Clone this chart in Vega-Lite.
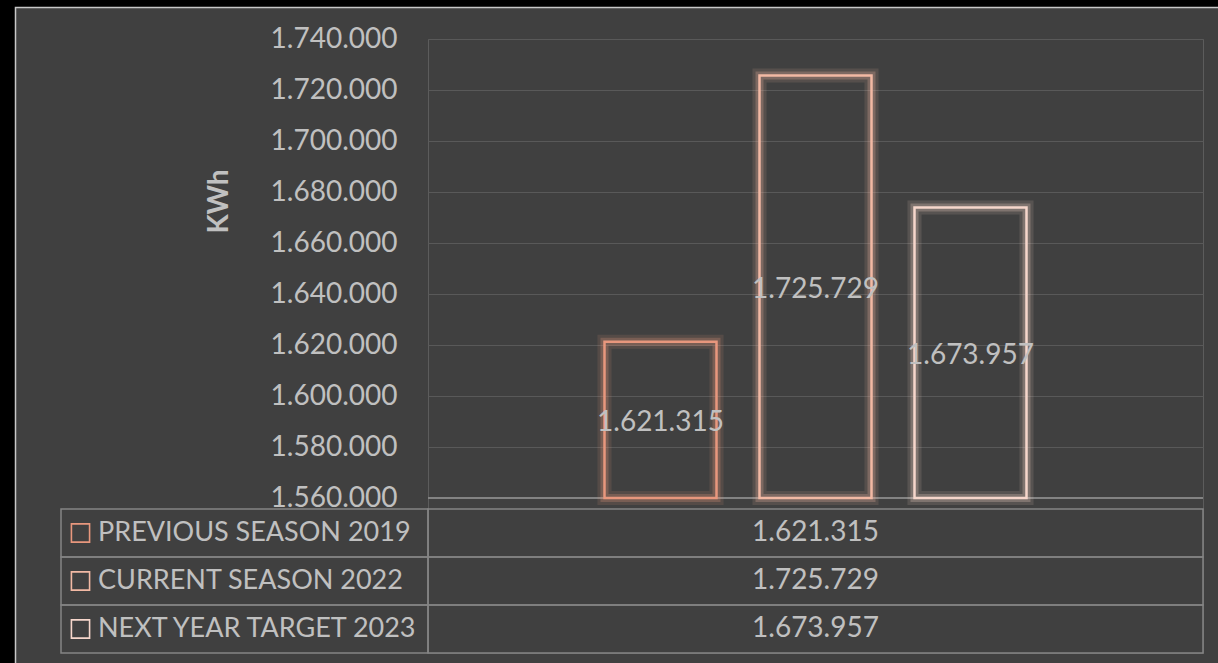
{
  "$schema": "https://vega.github.io/schema/vega-lite/v6.json",
  "width": 775,
  "height": 614,
  "autosize": {"type": "none"},
  "padding": {"left": 428, "top": 39, "right": 15, "bottom": 10},
  "background": "#404040",
  "config": {
    "view": {"stroke": "#5c5c5c", "strokeWidth": 1},
    "font": "Lato",
    "locale": {"number": {"decimal": ",", "thousands": ".", "grouping": [3], "currency": ["", " €"]}}
  },
  "data": {
    "values": [
      {"series": "PREVIOUS SEASON 2019", "kwh": 1621315},
      {"series": "CURRENT SEASON 2022", "kwh": 1725729},
      {"series": "NEXT YEAR TARGET 2023", "kwh": 1673957}
    ]
  },
  "resolve": {"scale": {"x": "independent", "y": "independent"}},
  "layer": [
    {
      "layer": [
        {
          "mark": {"type": "rule", "color": "#848484", "strokeWidth": 1.5},
          "encoding": {
            "y": {
              "datum": 1560000,
              "type": "quantitative",
              "scale": {"domain": [1499215.7, 1740000], "nice": false, "zero": false},
              "axis": {
                "values": [1560000, 1580000, 1600000, 1620000, 1640000, 1660000, 1680000, 1700000, 1720000, 1740000],
                "format": ",.0f",
                "labelFont": "Lato",
                "labelFontSize": 28,
                "labelColor": "#c0c0c0",
                "labelPadding": 31,
                "grid": true,
                "gridColor": "#595959",
                "gridWidth": 1.2,
                "domain": false,
                "ticks": false,
                "title": "KWh",
                "titleFont": "Lato",
                "titleFontSize": 28,
                "titleFontWeight": "bold",
                "titleColor": "#c0c0c0",
                "titleAngle": -90,
                "titleX": -201,
                "titleY": 162,
                "titleAlign": "center",
                "titleBaseline": "alphabetic"
              }
            }
          }
        },
        {
          "mark": {"type": "bar", "filled": false, "strokeWidth": 14, "strokeOpacity": 0.13, "width": {"band": 0.7226}},
          "encoding": {
            "x": {"field": "series", "type": "nominal", "sort": null, "scale": {"domain": ["PREVIOUS SEASON 2019", "CURRENT SEASON 2022", "NEXT YEAR TARGET 2023"], "paddingInner": 0, "paddingOuter": 1}, "axis": null},
            "y": {"field": "kwh", "type": "quantitative", "title": "KWh"},
            "y2": {"datum": 1560000},
            "color": {"field": "series", "type": "nominal", "scale": {"domain": ["PREVIOUS SEASON 2019", "CURRENT SEASON 2022", "NEXT YEAR TARGET 2023"], "range": ["#e8977d", "#f2b9a4", "#f6d6cb"]}, "legend": null}
          }
        },
        {
          "mark": {"type": "bar", "filled": false, "strokeWidth": 8, "strokeOpacity": 0.25, "width": {"band": 0.7226}},
          "encoding": {
            "x": {"field": "series", "type": "nominal", "sort": null},
            "y": {"field": "kwh", "type": "quantitative", "title": "KWh"},
            "y2": {"datum": 1560000},
            "color": {"field": "series", "type": "nominal", "legend": null}
          }
        },
        {
          "mark": {"type": "bar", "filled": false, "strokeWidth": 2.5, "width": {"band": 0.7226}},
          "encoding": {
            "x": {"field": "series", "type": "nominal", "sort": null},
            "y": {"field": "kwh", "type": "quantitative", "title": "KWh"},
            "y2": {"datum": 1560000},
            "color": {"field": "series", "type": "nominal", "legend": null}
          }
        },
        {
          "transform": [{"calculate": "(datum.kwh + 1560000) / 2", "as": "mid"}],
          "mark": {"type": "text", "font": "Lato", "fontSize": 28, "color": "#c0c0c0", "baseline": "middle", "align": "center", "dy": 3},
          "encoding": {
            "x": {"field": "series", "type": "nominal", "sort": null},
            "y": {"field": "mid", "type": "quantitative", "title": "KWh"},
            "text": {"field": "kwh", "type": "quantitative", "format": ",.0f"}
          }
        }
      ]
    },
    {
      "layer": [
        {
          "mark": {"type": "rect", "filled": false, "stroke": "#848484", "strokeWidth": 1.5},
          "encoding": {
            "x": {"datum": 0, "type": "quantitative", "scale": {"domain": [0, 1], "nice": false, "zero": false}, "axis": null},
            "x2": {"datum": 1},
            "y": {"field": "series", "type": "nominal", "sort": null, "scale": {"domain": ["PREVIOUS SEASON 2019", "CURRENT SEASON 2022", "NEXT YEAR TARGET 2023"], "paddingInner": 0, "paddingOuter": 0, "range": [470, 614]}, "axis": null}
          }
        },
        {
          "mark": {"type": "rect", "filled": false, "stroke": "#848484", "strokeWidth": 1.5},
          "encoding": {
            "x": {"datum": -0.47355, "type": "quantitative"},
            "x2": {"datum": 0},
            "y": {"field": "series", "type": "nominal", "sort": null}
          }
        },
        {
          "mark": {"type": "point", "shape": "square", "filled": false, "size": 330, "strokeWidth": 1.6, "opacity": 1},
          "encoding": {
            "x": {"datum": -0.44839, "type": "quantitative"},
            "y": {"field": "series", "type": "nominal", "sort": null},
            "color": {"field": "series", "type": "nominal", "legend": null}
          }
        },
        {
          "mark": {"type": "text", "font": "Lato", "fontSize": 27, "color": "#c0c0c0", "align": "left", "baseline": "middle"},
          "encoding": {
            "x": {"datum": -0.42581, "type": "quantitative"},
            "y": {"field": "series", "type": "nominal", "sort": null},
            "text": {"field": "series", "type": "nominal"}
          }
        },
        {
          "mark": {"type": "text", "font": "Lato", "fontSize": 28, "color": "#c0c0c0", "align": "center", "baseline": "middle"},
          "encoding": {
            "x": {"datum": 0.5, "type": "quantitative"},
            "y": {"field": "series", "type": "nominal", "sort": null},
            "text": {"field": "kwh", "type": "quantitative", "format": ",.0f"}
          }
        }
      ]
    },
    {
      "data": {"values": [{"frame": "panel"}]},
      "layer": [
        {
          "mark": {"type": "rect", "fill": "#000000", "stroke": null},
          "encoding": {
            "x": {"datum": -0.56, "type": "quantitative", "scale": {"domain": [0, 1], "nice": false, "zero": false}, "axis": null},
            "x2": {"datum": -0.5329},
            "y": {"datum": 1.08, "type": "quantitative", "scale": {"domain": [0, 1], "nice": false, "zero": false}, "axis": null},
            "y2": {"datum": -0.05}
          }
        },
        {
          "mark": {"type": "rect", "fill": "#000000", "stroke": null},
          "encoding": {
            "x": {"datum": -0.56, "type": "quantitative"},
            "x2": {"datum": 1.05},
            "y": {"datum": 1.08, "type": "quantitative"},
            "y2": {"datum": 1.05212}
          }
        },
        {
          "mark": {"type": "rect", "filled": false, "stroke": "#c8c8c8", "strokeWidth": 1.5},
          "encoding": {
            "x": {"datum": -0.53226, "type": "quantitative"},
            "x2": {"datum": 1.05},
            "y": {"datum": 1.0513, "type": "quantitative"},
            "y2": {"datum": -0.05}
          }
        }
      ]
    }
  ]
}
